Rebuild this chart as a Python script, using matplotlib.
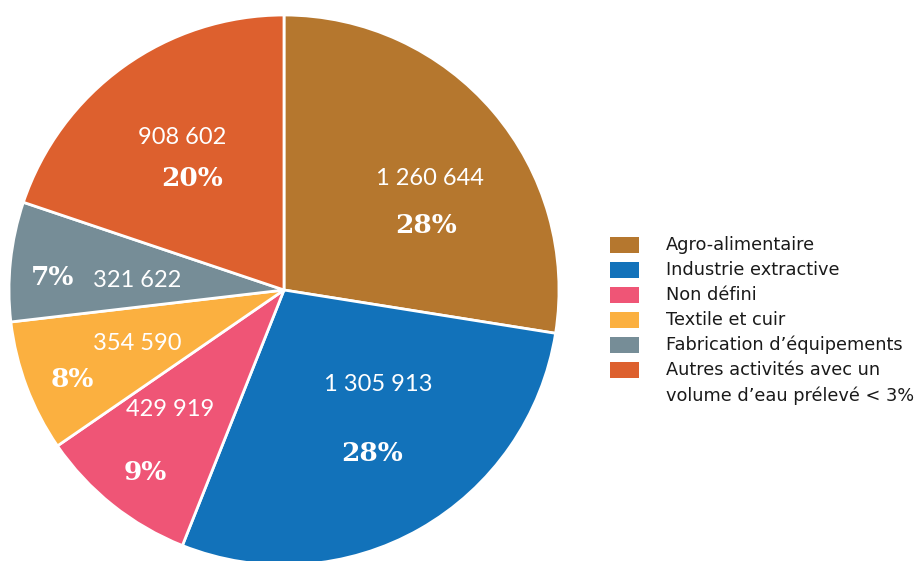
import matplotlib
matplotlib.use("Agg")
import matplotlib.pyplot as plt
import matplotlib.patches as mpatches

# Water withdrawal by industrial sector
sectors = ["Agro-alimentaire", "Industrie extractive", "Non défini",
           "Textile et cuir", "Fabrication d\u2019équipements",
           "Autres activités avec un\nvolume d\u2019eau prélevé < 3%"]
volumes = [1260644, 1305913, 429919, 354590, 321622, 908602]
value_labels = ["1 260 644", "1 305 913", "429 919", "354 590", "321 622", "908 602"]
pct_labels = ["28%", "28%", "9%", "8%", "7%", "20%"]
colors = ["#B5772E", "#1272BA", "#EF5576", "#FBB040", "#768D97", "#DD602E"]

# label placement inside the pie (radius units, relative to centre)
value_pos = [(0.531, 0.407), (0.342, -0.342), (-0.415, -0.433),
             (-0.535, -0.196), (-0.535, 0.033), (-0.371, 0.553)]
pct_pos = [(0.516, 0.233), (0.320, -0.596), (-0.505, -0.665),
           (-0.771, -0.327), (-0.840, 0.044), (-0.335, 0.404)]

W, H = 921, 561
fig = plt.figure(figsize=(W / 100, H / 100), dpi=100)

# pie centre at (284, 290) px, radius 275 px
cx, cy, r = 284, 290, 275
ax = fig.add_axes([(cx - r) / W, (H - cy - r) / H, 2 * r / W, 2 * r / H])
ax.pie(volumes, colors=colors, startangle=90, counterclock=False,
       wedgeprops=dict(edgecolor="white", linewidth=2), radius=1)
ax.set_xlim(-1, 1)
ax.set_ylim(-1, 1)
ax.set_aspect("equal")
ax.axis("off")

for (vx, vy), txt in zip(value_pos, value_labels):
    ax.text(vx, vy, txt, ha="center", va="center", color="white",
            fontsize=17, family="Lato", fontweight="normal")
for (px, py), txt in zip(pct_pos, pct_labels):
    ax.text(px, py, txt, ha="center", va="center", color="white",
            fontsize=19, family="DejaVu Serif", fontweight="bold")

# legend drawn by hand so the swatch lines up with the first text line
leg_x, leg_y0, leg_dy = 610, 245, 25
for i, (name, c) in enumerate(zip(sectors, colors)):
    y = leg_y0 + i * leg_dy
    fig.add_artist(mpatches.Rectangle((leg_x / W, (H - y - 8) / H), 29 / W, 16 / H,
                                      transform=fig.transFigure, facecolor=c,
                                      edgecolor="none"))
    fig.text(666 / W, (H - y + 9) / H, name, ha="left", va="top",
             fontsize=12.8, family="DejaVu Sans", color="#1a1a1a", linespacing=1.5)

fig.savefig("out.png", dpi=100, facecolor="white")
